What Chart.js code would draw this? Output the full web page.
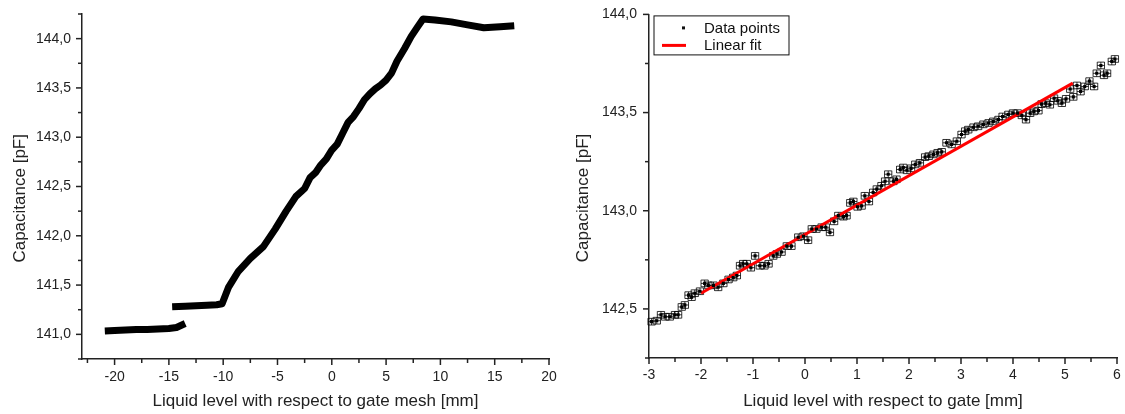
<!DOCTYPE html>
<html>
<head>
<meta charset="utf-8">
<script src="https://cdn.jsdelivr.net/npm/chart.js@4.4.0/dist/chart.umd.min.js"></script>
<style>
  html, body { margin: 0; padding: 0; background: #fff; }
  #wrap { position: relative; width: 1125px; height: 414px; }
  #left { position: absolute; left: 0; top: 0; }
  #right { position: absolute; left: 562px; top: 0; }
</style>
</head>
<body>
<div id="wrap">
  <canvas id="left" width="562" height="414"></canvas>
  <canvas id="right" width="563" height="414"></canvas>
</div>
<script>
// ---- left panel: full scan (lower step, then the main rise) ----
const lowStepX = [-20.9, -20.0, -19.0, -18.0, -17.0, -16.0, -15.0, -14.3, -13.9, -13.5];
const lowStepY = [141.035, 141.04, 141.045, 141.05, 141.05, 141.055, 141.06, 141.07, 141.09, 141.11];

const scanX = [-14.7, -13.5, -12.5, -11.5, -10.6, -10.1, -9.5, -8.6, -7.5, -6.3, -5.2, -4.2, -3.3,
  -2.5, -2.0, -1.5, -1.0, -0.5, 0.0, 0.5, 1.0, 1.5, 2.0, 2.5, 3.0, 3.5, 4.0, 4.5, 5.0, 5.5, 6.0,
  6.7, 7.3, 7.9, 8.4, 9.5, 11.0, 12.5, 14.0, 15.5, 16.8];
const scanY = [141.28, 141.285, 141.29, 141.295, 141.30, 141.31, 141.48, 141.64, 141.77, 141.89, 142.07, 142.25, 142.40,
  142.48, 142.59, 142.64, 142.72, 142.78, 142.87, 142.93, 143.04, 143.15, 143.21, 143.29, 143.38, 143.44, 143.49, 143.53, 143.58, 143.65, 143.77,
  143.90, 144.02, 144.12, 144.20, 144.19, 144.17, 144.14, 144.11, 144.12, 144.13];

const leftXMajor = [-20, -15, -10, -5, 0, 5, 10, 15, 20];
const leftXMinor = [-22.5, -17.5, -12.5, -7.5, -2.5, 2.5, 7.5, 12.5, 17.5];
const leftYMajor = [141.0, 141.5, 142.0, 142.5, 143.0, 143.5, 144.0];
const leftYMinor = [140.75, 141.25, 141.75, 142.25, 142.75, 143.25, 143.75, 144.25];

// ---- right panel: zoom on the linear part ----
const zoomX = [-2.95, -2.85, -2.77, -2.69, -2.60, -2.50, -2.44, -2.37, -2.31, -2.24, -2.18, -2.12, -2.02,
  -1.93, -1.86, -1.76, -1.67, -1.57, -1.47, -1.38, -1.31, -1.25, -1.19, -1.12, -1.04, -0.96, -0.87, -0.78,
  -0.70, -0.61, -0.54, -0.45, -0.35, -0.26, -0.13, -0.03, 0.06, 0.13, 0.22, 0.32, 0.40, 0.48, 0.56, 0.64,
  0.74, 0.80, 0.87, 0.93, 1.01, 1.09, 1.15, 1.23, 1.31, 1.38, 1.47, 1.54, 1.60, 1.70, 1.76, 1.83, 1.89,
  1.96, 2.04, 2.12, 2.21, 2.31, 2.38, 2.47, 2.55, 2.63, 2.72, 2.82, 2.92, 3.01, 3.08, 3.14, 3.24, 3.33,
  3.43, 3.53, 3.62, 3.72, 3.80, 3.91, 4.00, 4.09, 4.17, 4.25, 4.33, 4.40, 4.49, 4.55, 4.63, 4.71, 4.79,
  4.86, 4.94, 5.02, 5.10, 5.16, 5.23, 5.30, 5.38, 5.47, 5.56, 5.61, 5.69, 5.75, 5.81, 5.90, 5.96];
const zoomY = [142.435, 142.44, 142.47, 142.46, 142.46, 142.47, 142.47, 142.51, 142.52, 142.57, 142.56, 142.58, 142.59,
  142.63, 142.62, 142.62, 142.61, 142.63, 142.65, 142.66, 142.67, 142.72, 142.73, 142.73, 142.71, 142.77, 142.72, 142.72,
  142.73, 142.77, 142.78, 142.79, 142.82, 142.82, 142.865, 142.87, 142.85, 142.907, 142.907, 142.916, 142.916, 142.89, 142.946, 142.975,
  142.97, 142.975, 143.04, 143.047, 143.02, 143.025, 143.076, 143.047, 143.093, 143.11, 143.127, 143.15, 143.186, 143.15, 143.16, 143.21, 143.22,
  143.206, 143.216, 143.236, 143.244, 143.273, 143.278, 143.287, 143.295, 143.30, 143.346, 143.338, 143.354, 143.388, 143.405, 143.413, 143.425, 143.43,
  143.44, 143.447, 143.455, 143.464, 143.48, 143.49, 143.497, 143.497, 143.486, 143.464, 143.497, 143.506, 143.51, 143.543, 143.548, 143.54, 143.573,
  143.56, 143.548, 143.57, 143.62, 143.58, 143.638, 143.607, 143.633, 143.66, 143.633, 143.70, 143.74, 143.69, 143.70, 143.76, 143.773];

const fitX = [-2.0, 5.15];
const fitY = [142.58, 143.65];

const rightXMajor = [-3, -2, -1, 0, 1, 2, 3, 4, 5, 6];
const rightXMinor = [-2.5, -1.5, -0.5, 0.5, 1.5, 2.5, 3.5, 4.5, 5.5];
const rightYMajor = [142.5, 143.0, 143.5, 144.0];
const rightYMinor = [142.25, 142.75, 143.25, 143.75];

const pts = (xs, ys) => xs.map((x, i) => ({ x: x, y: ys[i] }));
const comma = v => v.toFixed(1).replace('.', ',');

Chart.defaults.font.family = "'Liberation Sans', Arial, sans-serif";
Chart.defaults.color = '#222';

// short major ticks / shorter minor ticks, drawn outside the plot
const tickMarks = {
  id: 'tickMarks',
  afterDraw(chart, args, opts) {
    const ctx = chart.ctx;
    ctx.save();
    ctx.strokeStyle = '#222';
    ctx.lineWidth = 1.5;
    ['x', 'y'].forEach(id => {
      const sc = chart.scales[id];
      const majors = opts[id];
      sc.ticks.forEach(t => {
        const len = majors.includes(t.value) ? 6 : 4;
        const p = sc.getPixelForValue(t.value);
        ctx.beginPath();
        if (id === 'x') { ctx.moveTo(p, sc.top); ctx.lineTo(p, sc.top + len); }
        else { ctx.moveTo(sc.right, p); ctx.lineTo(sc.right - len, p); }
        ctx.stroke();
      });
    });
    ctx.restore();
  }
};

// x/y error bars with caps for the zoomed data points
const errorBars = {
  id: 'errorBars',
  beforeDatasetsDraw(chart, args, opts) {
    const meta = chart.getDatasetMeta(opts.index);
    const data = chart.data.datasets[opts.index].data;
    const xs = chart.scales.x, ys = chart.scales.y;
    const ctx = chart.ctx;
    ctx.save();
    ctx.strokeStyle = 'rgba(0,0,0,0.8)';
    ctx.lineWidth = 1;
    meta.data.forEach((el, i) => {
      const d = data[i];
      const x0 = xs.getPixelForValue(d.x - opts.dx), x1 = xs.getPixelForValue(d.x + opts.dx);
      const y0 = ys.getPixelForValue(d.y + opts.dy), y1 = ys.getPixelForValue(d.y - opts.dy);
      const c = opts.cap;
      ctx.beginPath();
      ctx.moveTo(x0, el.y); ctx.lineTo(x1, el.y);
      ctx.moveTo(x0, el.y - c); ctx.lineTo(x0, el.y + c);
      ctx.moveTo(x1, el.y - c); ctx.lineTo(x1, el.y + c);
      ctx.moveTo(el.x, y0); ctx.lineTo(el.x, y1);
      ctx.moveTo(el.x - c, y0); ctx.lineTo(el.x + c, y0);
      ctx.moveTo(el.x - c, y1); ctx.lineTo(el.x + c, y1);
      ctx.stroke();
    });
    ctx.restore();
  }
};

// framed legend inside the plot, top-left
const boxLegend = {
  id: 'boxLegend',
  afterDraw(chart) {
    const ctx = chart.ctx;
    const a = chart.chartArea;
    const sets = chart.data.datasets;
    const bx = a.left + 5, by = a.top + 1.5;
    ctx.save();
    ctx.fillStyle = '#fff';
    ctx.fillRect(bx, by, 135, 39);
    ctx.strokeStyle = '#111';
    ctx.lineWidth = 1;
    ctx.strokeRect(bx, by, 135, 39);
    ctx.font = "15px 'Liberation Sans', Arial, sans-serif";
    ctx.textBaseline = 'middle';
    ctx.fillStyle = '#111';
    ctx.fillRect(bx + 28, by + 10.5, 3, 3);
    ctx.fillText(sets[0].label, bx + 50, by + 12.5);
    ctx.strokeStyle = sets[1].borderColor;
    ctx.lineWidth = 3;
    ctx.beginPath();
    ctx.moveTo(bx + 8, by + 29.5); ctx.lineTo(bx + 32, by + 29.5);
    ctx.stroke();
    ctx.fillText(sets[1].label, bx + 50, by + 29.5);
    ctx.restore();
  }
};

function axes(cfg) {
  const allX = cfg.xMajor.concat(cfg.xMinor).sort((a, b) => a - b);
  const allY = cfg.yMajor.concat(cfg.yMinor).sort((a, b) => a - b);
  const border = { display: true, color: '#222', width: 1.5 };
  const grid = { drawOnChartArea: false, drawTicks: true, tickLength: 6, tickColor: 'rgba(0,0,0,0)' };
  return {
    x: {
      type: 'linear', min: cfg.xMin, max: cfg.xMax,
      border: border, grid: grid,
      afterBuildTicks: s => { s.ticks = allX.map(v => ({ value: v })); },
      afterFit: s => { s.height = cfg.xH; },
      ticks: {
        autoSkip: false, maxRotation: 0, padding: cfg.xPad,
        font: { size: 14 },
        callback: v => cfg.xMajor.includes(v) ? String(v) : ''
      },
      title: { display: true, text: cfg.xTitle, font: { size: 17 }, padding: { top: 0, bottom: 2 } }
    },
    y: {
      type: 'linear', min: cfg.yMin, max: cfg.yMax,
      border: border, grid: grid,
      afterBuildTicks: s => { s.ticks = allY.map(v => ({ value: v })); },
      afterFit: s => { s.width = cfg.yW; },
      ticks: {
        autoSkip: false, padding: cfg.yPad,
        font: { size: 14 },
        callback: v => cfg.yMajor.includes(v) ? comma(v) : ''
      },
      title: { display: true, text: 'Capacitance [pF]     ', font: { size: 17 }, padding: { top: cfg.yTitlePad, bottom: 0 } }
    }
  };
}

new Chart(document.getElementById('left'), {
  type: 'scatter',
  data: {
    datasets: [
      { label: 'Scan (lower step)', data: pts(lowStepX, lowStepY), showLine: true,
        borderColor: '#000', borderWidth: 7, pointRadius: 0, borderJoinStyle: 'round' },
      { label: 'Scan', data: pts(scanX, scanY), showLine: true,
        borderColor: '#000', borderWidth: 7, pointRadius: 0, borderJoinStyle: 'round' }
    ]
  },
  options: {
    responsive: false, animation: false, devicePixelRatio: 1,
    layout: { padding: { left: 0, right: 13, top: 14, bottom: 0 } },
    plugins: {
      legend: { display: false }, tooltip: { enabled: false },
      tickMarks: { x: leftXMajor, y: leftYMajor }
    },
    scales: axes({
      xMin: -23, xMax: 20, yMin: 140.75, yMax: 144.25,
      xMajor: leftXMajor, xMinor: leftXMinor, yMajor: leftYMajor, yMinor: leftYMinor,
      xH: 55, yW: 82, xPad: 4, yPad: 5, yTitlePad: 10,
      xTitle: 'Liquid level with respect to gate mesh [mm]'
    })
  },
  plugins: [tickMarks]
});

new Chart(document.getElementById('right'), {
  type: 'scatter',
  data: {
    datasets: [
      { label: 'Data points', data: pts(zoomX, zoomY), showLine: false,
        pointStyle: 'rect', pointRadius: 2.2, backgroundColor: '#000', borderColor: '#000', borderWidth: 0 },
      { label: 'Linear fit', data: pts(fitX, fitY), showLine: true,
        borderColor: '#ff0000', borderWidth: 3, pointRadius: 0 }
    ]
  },
  options: {
    responsive: false, animation: false, devicePixelRatio: 1,
    layout: { padding: { left: 0, right: 8, top: 12, bottom: 0 } },
    plugins: {
      legend: { display: false }, tooltip: { enabled: false },
      tickMarks: { x: rightXMajor, y: rightYMajor },
      errorBars: { index: 0, dx: 0.07, dy: 0.017, cap: 3.5 }
    },
    scales: axes({
      xMin: -3, xMax: 6, yMin: 142.25, yMax: 144.0,
      xMajor: rightXMajor, xMinor: rightXMinor, yMajor: rightYMajor, yMinor: rightYMinor,
      xH: 56, yW: 87, xPad: 3, yPad: 6, yTitlePad: 11,
      xTitle: 'Liquid level with respect to gate [mm]'
    })
  },
  plugins: [errorBars, tickMarks, boxLegend]
});
</script>
</body>
</html>
